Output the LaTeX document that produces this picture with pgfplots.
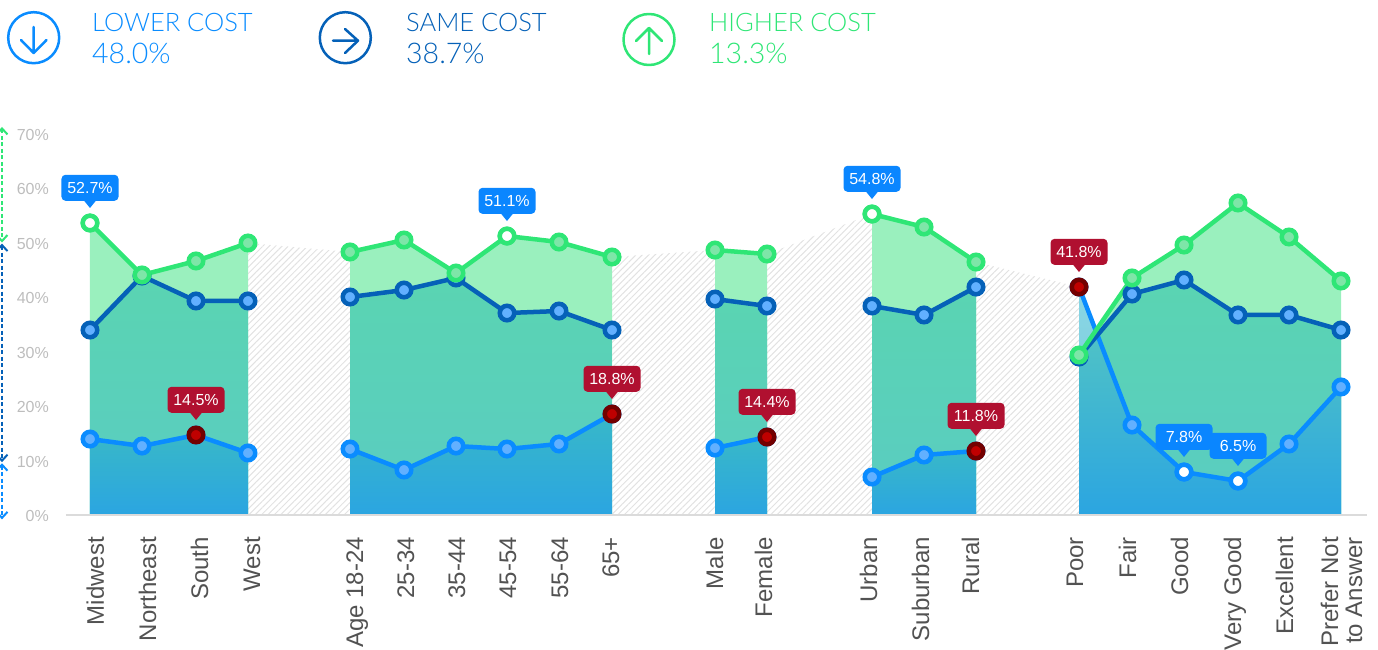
\documentclass[border=0pt]{standalone}
\usepackage{pgfplots}
\usepackage{pgfplotstable}
\pgfplotsset{compat=1.18}
\usepackage{fontspec}
\setmainfont{Liberation Sans}
\newfontfamily\lightfont{Lato Light}
\usetikzlibrary{patterns.meta,arrows.meta}
\definecolor{cLow}{HTML}{0A8CFF}
\definecolor{cSame}{HTML}{0561B8}
\definecolor{cHigh}{HTML}{2FE676}
\definecolor{inLow}{HTML}{62B0FF}
\definecolor{inHigh}{HTML}{7EE6A8}
\definecolor{aGreen}{HTML}{9AF0BE}
\definecolor{aTealT}{HTML}{5AD4B2}
\definecolor{aTealB}{HTML}{5ACCC2}
\definecolor{aBlueT}{HTML}{38B8C8}
\definecolor{aBlueB}{HTML}{2BA5E1}
\definecolor{aPoorT}{HTML}{8AD6E3}
\definecolor{aPoorB}{HTML}{70C8E0}
\definecolor{aMixT}{HTML}{4FC2C6}
\definecolor{aMixM}{HTML}{33B3D0}
\definecolor{boxB}{HTML}{0A86FF}
\definecolor{boxR}{HTML}{B01030}
\definecolor{hatch}{HTML}{E2E2E2}
\pgfplotstableread{
x g d l
90 53.58 33.94 13.94
142 44.04 43.85 12.66
196 46.61 39.27 14.68
248 49.91 39.27 11.38
}\groupA
\pgfplotstableread{
x g d l
350 48.26 40.00 12.11
404 50.46 41.28 8.26
456 44.40 43.49 12.66
507 51.19 37.06 12.11
559 50.09 37.43 13.03
612 47.34 33.94 18.53
}\groupB
\pgfplotstableread{
x g d l
715 48.62 39.63 12.29
767 47.89 38.35 14.31
}\groupC
\pgfplotstableread{
x g d l
872 55.23 38.35 6.97
924 52.84 36.70 11.01
976 46.42 41.83 11.74
}\groupD
\pgfplotstableread{
x g d l
1079 29.36 28.99 41.83
1132 43.49 40.55 16.51
1184 49.54 43.12 7.89
1238 57.25 36.70 6.24
1289 51.01 36.70 13.03
1341 42.94 33.94 23.49
}\groupE
% the part of the Lower-cost area of the last group that lies under the Same-cost line
\pgfplotstableread{
x l
1079 28.99
1097.45 33.00
1132 16.51
1184 7.89
1238 6.24
1289 13.03
1341 23.49
}\groupEunder
\newcommand{\areas}[1]{%
  \addplot[draw=none,fill=aGreen] table[x=x,y=g]{#1}\closedcycle;
  \addplot[draw=none,top color=aTealT,bottom color=aTealB] table[x=x,y=d]{#1}\closedcycle;
  \addplot[draw=none,top color=aBlueT,middle color=aBlueB!50!aBlueT,bottom color=aBlueB] table[x=x,y=l]{#1}\closedcycle;
}
\pgfplotsset{
  dot/.style n args={2}{mark=*,mark size=7.25pt,mark options={fill=#2,line width=4.5pt,draw=#1,solid}},
  gapfill/.style={draw=none,pattern={Lines[angle=45,distance=4.5pt,line width=1pt]},pattern color=hatch},
  rangearrow/.style={#1,dash pattern=on 4pt off 2.5pt,line width=2pt,{Straight Barb[length=6pt,width=11pt]}-{Straight Barb[length=6pt,width=11pt]}},
}
\newcommand{\lines}[1]{%
  \addplot[cLow,line width=4.5pt,dot={cLow}{inLow}] table[x=x,y=l]{#1};
  \addplot[cSame,line width=4.5pt,dot={cSame}{inLow}] table[x=x,y=d]{#1};
  \addplot[cHigh,line width=4.5pt,dot={cHigh}{inHigh}] table[x=x,y=g]{#1};
}
\newcommand{\callout}[4]{%
  \fill[#4] (axis cs:#1,#2) ++(-6.5pt,23pt) -- ++(13pt,0pt) -- ++(-6.5pt,-8pt) -- cycle;
  \node[fill=#4,text=white,rounded corners=4pt,minimum width=57pt,minimum height=26pt,inner sep=0pt,anchor=south,
        font=\fontsize{16}{18}\selectfont] at ([yshift=22pt]axis cs:#1,#2) {#3};
}
\begin{document}
\begin{tikzpicture}[x=1pt,y=1pt]
\useasboundingbox (-66pt,-134pt) rectangle (1312pt,515pt);
\begin{axis}[
  at={(0,0)},anchor=south west,
  scale only axis,width=1301pt,height=381.5pt,
  xmin=66,xmax=1367,ymin=0,ymax=70,
  clip=false,
  axis lines=left,
  axis line style={draw=none,-},
  major tick length=0pt,
  ytick={0,10,...,70},
  yticklabel={\pgfmathprintnumber{\tick}\%},
  /pgf/number format/assume math mode=true,
  y tick label style={font=\fontsize{16}{18}\selectfont,text=black!26,inner sep=0pt,xshift=-17pt,yshift=-1pt},
  xtick={104,156,208,260,363,414,465,516,568,619,723,772,877,929,979,1083,1136,1188,1241,1293,1362},
  xticklabels={Midwest,Northeast,South,West,Age 18-24,25-34,35-44,45-54,55-64,65+,Male,Female,Urban,Suburban,Rural,Poor,Fair,Good,Very Good,Excellent,{Prefer Not\\to Answer}},
  x tick label style={rotate=90,anchor=base east,inner sep=0pt,xshift=-22pt,align=right,
    font=\fontsize{24}{24}\selectfont,text=black!68},
]
% hatched gaps between the groups
\addplot[gapfill] coordinates {(248,49.91)(350,48.26)}\closedcycle;
\addplot[gapfill] coordinates {(612,47.34)(715,48.62)}\closedcycle;
\addplot[gapfill] coordinates {(767,47.89)(872,55.23)}\closedcycle;
\addplot[gapfill] coordinates {(976,46.42)(1079,41.83)}\closedcycle;
\areas{\groupA}
\areas{\groupB}
\areas{\groupC}
\areas{\groupD}
% last group: Lower-cost area shows pale where it rises above the Same-cost line
\addplot[draw=none,fill=aGreen] table[x=x,y=g]{\groupE}\closedcycle;
\addplot[draw=none,top color=aPoorT,bottom color=aPoorB] table[x=x,y=l]{\groupE}\closedcycle;
\addplot[draw=none,top color=aTealT,bottom color=aTealB] table[x=x,y=d]{\groupE}\closedcycle;
\addplot[draw=none,top color=aMixT,middle color=aMixM,bottom color=aBlueB] table[x=x,y=l]{\groupEunder}\closedcycle;
% baseline
\addplot[draw=black!14,line width=2.5pt] coordinates {(66,0)(1367,0)};
\lines{\groupA}
\lines{\groupB}
\lines{\groupC}
\lines{\groupD}
\lines{\groupE}
% extreme points
\addplot[only marks,dot={cHigh}{white}] coordinates {(90,53.58)(507,51.19)(872,55.23)};
\addplot[only marks,dot={cLow}{white}] coordinates {(1184,7.89)(1238,6.24)};
\addplot[only marks,dot={red!45!black}{red!75!black}] coordinates {(196,14.68)(612,18.53)(767,14.31)(976,11.74)(1079,41.83)};
% range arrows on the left
\addplot[rangearrow=cHigh] coordinates {(2,71.2)(2,50)};
\addplot[rangearrow=cSame] coordinates {(2,49.8)(2,9.7)};
\addplot[rangearrow=cLow] coordinates {(2,9.5)(2,-0.8)};
% callouts
\callout{90}{53.58}{52.7\%}{boxB}
\callout{196}{14.68}{14.5\%}{boxR}
\callout{507}{51.19}{51.1\%}{boxB}
\callout{612}{18.53}{18.8\%}{boxR}
\callout{767}{14.31}{14.4\%}{boxR}
\callout{872}{55.23}{54.8\%}{boxB}
\callout{976}{11.74}{11.8\%}{boxR}
\callout{1079}{41.83}{41.8\%}{boxR}
\callout{1184}{7.89}{7.8\%}{boxB}
\callout{1238}{6.24}{6.5\%}{boxB}
\end{axis}
% header, in pixel coordinates of the reference
\begin{scope}[shift={(-66pt,515pt)},x=1pt,y=-1pt,line cap=round,line join=round]
\draw[cLow,line width=2.5pt] (33.7,37.7) circle[radius=25.5pt];
\draw[cLow,line width=2.5pt] (33.7,27)--(33.7,53) (21,40)--(33.7,53)--(46.5,40);
\draw[cSame,line width=2.5pt] (345.3,37.7) circle[radius=25.5pt];
\draw[cSame,line width=2.5pt] (333,40.7)--(358,40.7) (345,29)--(358,40.7)--(345,53);
\draw[cHigh,line width=2.5pt] (649,39.5) circle[radius=25.5pt];
\draw[cHigh,line width=2.5pt] (649,28)--(649,54) (636,41)--(649,28)--(662,41);
\tikzset{hd/.style={anchor=base west,inner sep=0pt,font=\lightfont\fontsize{25.5}{27}\selectfont}}
\node[hd,text=cLow] at (92,32) {LOWER COST};
\node[hd,text=cLow,font=\lightfont\fontsize{28.5}{30}\selectfont] at (92,64) {48.0\%};
\node[hd,text=cSame] at (406,32) {SAME COST};
\node[hd,text=cSame,font=\lightfont\fontsize{28.5}{30}\selectfont] at (406,64) {38.7\%};
\node[hd,text=cHigh] at (709,32) {HIGHER COST};
\node[hd,text=cHigh,font=\lightfont\fontsize{28.5}{30}\selectfont] at (709,64) {13.3\%};
\end{scope}
\end{tikzpicture}
\end{document}
